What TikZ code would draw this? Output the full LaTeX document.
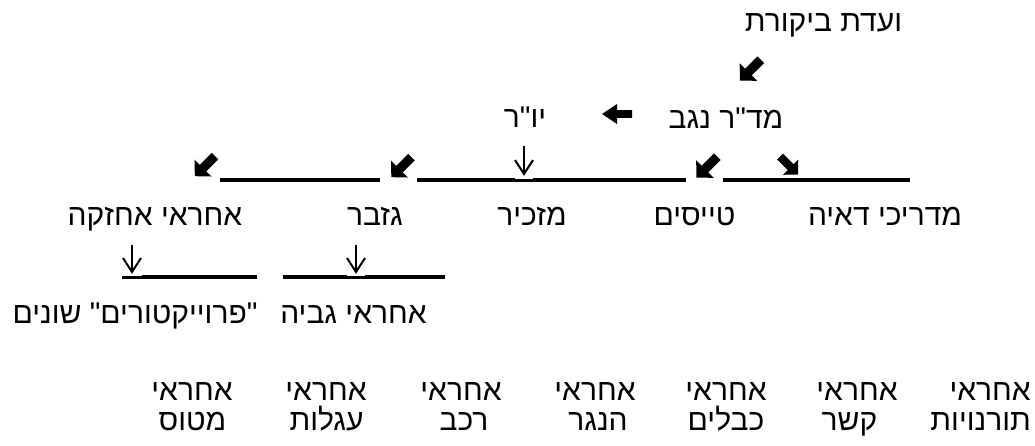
\documentclass[tikz,border=0pt]{standalone}
\usepackage{fontspec}
\newfontfamily\heb[Script=Hebrew]{Liberation Sans}
\TeXXeTstate=1
\newcommand{\rtl}[1]{\beginR #1\endR}
\begin{document}
\begin{tikzpicture}[x=1pt,y=-1pt,
  lbl/.style={inner sep=0pt,anchor=base,font=\heb\fontsize{30}{34}\selectfont},
  uline/.style={line width=3.5pt},
  thinarrow/.style={line width=2pt},
  heavydiag/.pic={\fill (-15.5,-5) -- (3,-5) -- (3,-13) -- (15.5,0) -- (3,13) -- (3,5) -- (-15.5,5) -- cycle;},
  heavyleft/.pic={\fill (-15,-3.8) -- (0,-3.8) -- (0,-10) -- (15,0) -- (0,10) -- (0,3.8) -- (-15,3.8) -- cycle;}
]
\useasboundingbox[fill=white] (0,0) rectangle (1035,445);

% row 1-2
\node[lbl] (vb) at (823.5,31) {\rtl{ועדת ביקורת}};
\pic[rotate=225,scale=0.95] at (750.4,70.1) {heavydiag};
\node[lbl] (mdr) at (726,128) {\rtl{מד"ר נגב}};
\pic[rotate=180] at (617,114) {heavyleft};
\node[lbl] (yor) at (525,127) {\rtl{יו"ר}};

% row 3 arrows and lines
\pic[rotate=225,scale=0.92] at (204.9,166.1) {heavydiag};
\pic[rotate=225,scale=0.92] at (401.4,167.1) {heavydiag};
\pic[rotate=225,scale=0.95] at (706.9,167.1) {heavydiag};
\pic[rotate=-45,scale=0.82] at (789,165.5) {heavydiag};

\coordinate (l1a) at (220,180); \coordinate (l1b) at (380,180);
\coordinate (l2a) at (417,180); \coordinate (l2n1) at (515,180);
\coordinate (l2n2) at (533,180); \coordinate (l2b) at (686,180);
\coordinate (l3a) at (723,180); \coordinate (l3b) at (910,180);
\draw[uline] (l1a) -- (l1b);
\draw[uline] (l2a) -- (l2n1);
\draw[line width=2.3pt] ([yshift=-0.6pt]l2n1) -- ([yshift=-0.6pt]l2n2);
\draw[uline] (l2n2) -- (l2b);
\draw[uline] (l3a) -- (l3b);

\coordinate (d1t) at (524,146); \coordinate (d1b) at (524,174);
\draw[thinarrow] (d1t) -- (d1b);
\draw[thinarrow,line join=miter] (515,160) -- (d1b) -- (533,160);

% row 4 labels
\node[lbl] (ahz) at (155,225) {\rtl{אחראי אחזקה}};
\node[lbl] (gzb) at (375,225) {\rtl{גזבר}};
\node[lbl] (mzk) at (532,225) {\rtl{מזכיר}};
\node[lbl] (tys) at (694.5,225) {\rtl{טייסים}};
\node[lbl] (mdd) at (885,225) {\rtl{מדריכי דאיה}};

% row 5 lines and arrows
\coordinate (m1a) at (122,277); \coordinate (m1n) at (142,277); \coordinate (m1b) at (257,277);
\coordinate (m2a) at (283,277); \coordinate (m2n1) at (347,277);
\coordinate (m2n2) at (365,277); \coordinate (m2b) at (445,277);
\draw[line width=2.3pt] ([yshift=-0.6pt]m1a) -- ([yshift=-0.6pt]m1n);
\draw[uline] (m1n) -- (m1b);
\draw[uline] (m2a) -- (m2n1);
\draw[line width=2.3pt] ([yshift=-0.6pt]m2n1) -- ([yshift=-0.6pt]m2n2);
\draw[uline] (m2n2) -- (m2b);

\coordinate (d2t) at (132,245); \coordinate (d2b) at (132,272);
\draw[thinarrow] (d2t) -- (d2b);
\draw[thinarrow,line join=miter] (123,258) -- (d2b) -- (141,258);
\coordinate (d3t) at (356,245); \coordinate (d3b) at (356,272);
\draw[thinarrow] (d3t) -- (d3b);
\draw[thinarrow,line join=miter] (347,258) -- (d3b) -- (365,258);

% row 6 labels
\node[lbl] (prj) at (135,323) {\rtl{"פרוייקטורים" שונים}};
\node[lbl] (gvy) at (353.5,323) {\rtl{אחראי גביה}};

% bottom rows
\node[lbl] (b1a) at (192,400) {\rtl{אחראי}};
\node[lbl] (b2a) at (326,400) {\rtl{אחראי}};
\node[lbl] (b3a) at (461,400) {\rtl{אחראי}};
\node[lbl] (b4a) at (595,400) {\rtl{אחראי}};
\node[lbl] (b5a) at (726,400) {\rtl{אחראי}};
\node[lbl] (b6a) at (857,400) {\rtl{אחראי}};
\node[lbl,anchor=base east] (b7a) at (1031,400) {\rtl{אחראי}};
\node[lbl] (b1b) at (192.5,430) {\rtl{מטוס}};
\node[lbl] (b2b) at (326.5,430) {\rtl{עגלות}};
\node[lbl] (b3b) at (464,430) {\rtl{רכב}};
\node[lbl] (b4b) at (598,430) {\rtl{הנגר}};
\node[lbl] (b5b) at (726,430) {\rtl{כבלים}};
\node[lbl] (b6b) at (849.5,430) {\rtl{קשר}};
\node[lbl,anchor=base east] (b7b) at (1031,430) {\rtl{תורנויות}};
\end{tikzpicture}
\end{document}
